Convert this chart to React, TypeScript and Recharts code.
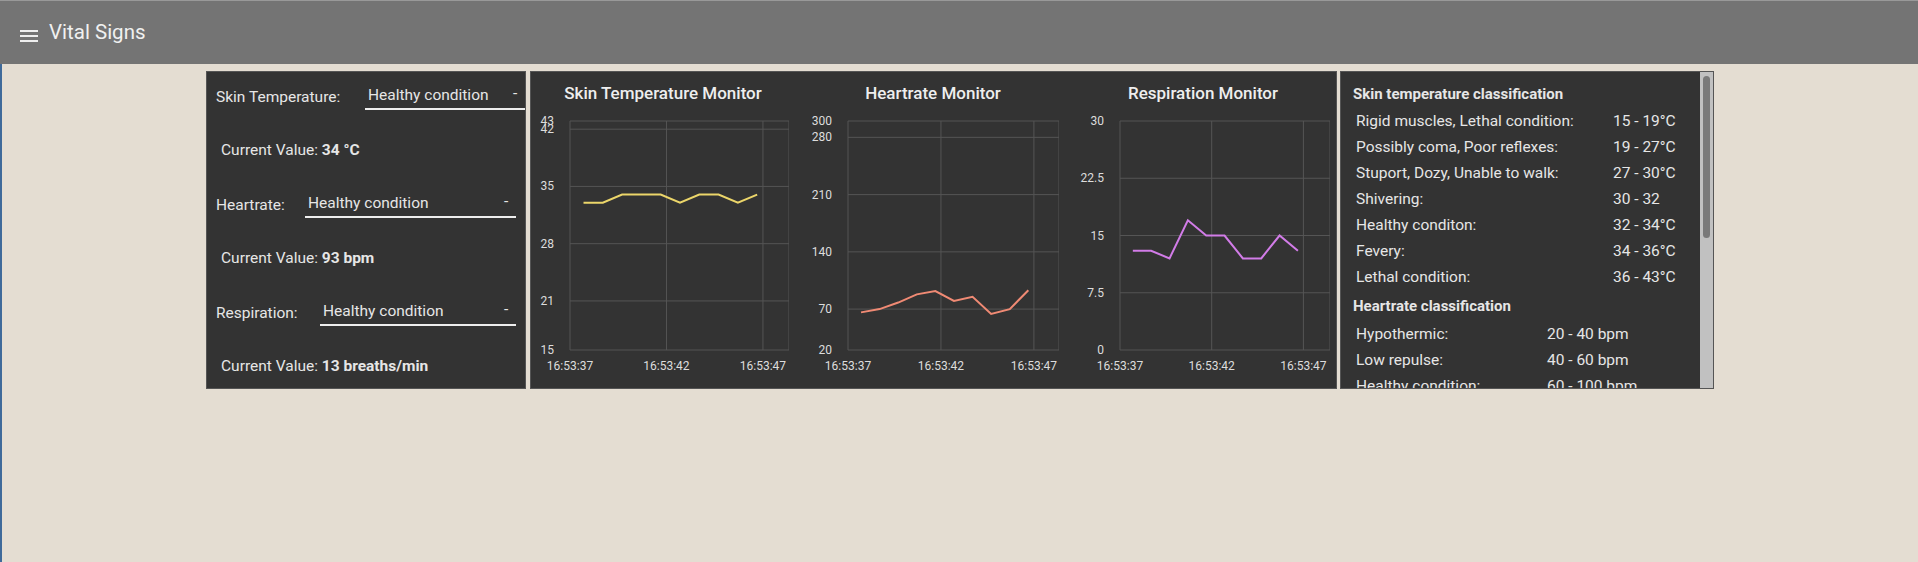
import React from 'react';
import { LineChart, Line, XAxis, YAxis, CartesianGrid } from 'recharts';

const TIMES = [37.7, 38.7, 39.7, 40.7, 41.7, 42.7, 43.7, 44.7, 45.7, 46.7];
const X_TICKS = [37, 42, 47];
const TEMP = [33, 33, 34, 34, 34, 33, 34, 34, 33, 34];
const HEART = [66, 70, 78, 88, 92, 80, 85, 64, 70, 93];
const RESP = [13, 13, 12, 17, 15, 15, 12, 12, 15, 13];
const TEMP_TICKS = [15, 21, 28, 35, 42, 43];
const HEART_TICKS = [20, 70, 140, 210, 280, 300];
const RESP_TICKS = [0, 7.5, 15, 22.5, 30];

const TEMP_CLASSES = [
  ['Rigid muscles, Lethal condition:', '15 - 19°C'],
  ['Possibly coma, Poor reflexes:', '19 - 27°C'],
  ['Stuport, Dozy, Unable to walk:', '27 - 30°C'],
  ['Shivering:', '30 - 32'],
  ['Healthy conditon:', '32 - 34°C'],
  ['Fevery:', '34 - 36°C'],
  ['Lethal condition:', '36 - 43°C'],
];
const HEART_CLASSES = [
  ['Hypothermic:', '20 - 40 bpm'],
  ['Low repulse:', '40 - 60 bpm'],
  ['Healthy condition:', '60 - 100 bpm'],
];

const FONT = 'Roboto, sans-serif';

const XTick = (p: any) => (
  <text x={p.x} y={p.y + 12} textAnchor="middle" fill="#ddd" fontSize={12} fontFamily={FONT}>
    {`16:53:${p.payload.value}`}
  </text>
);
const YTick = (p: any) => (
  <text x={p.x - 8} y={p.y + 4} textAnchor="end" fill="#ddd" fontSize={12} fontFamily={FONT}>
    {p.payload.value}
  </text>
);

type ChartProps = {
  title: string; values: number[]; ticks: number[]; color: string;
  plotLeft: number; plotWidth: number; titleX: number; xMax: number;
};

function Monitor({ title, values, ticks, color, plotLeft, plotWidth, titleX, xMax }: ChartProps) {
  const data = TIMES.map((t, i) => ({ t, v: values[i] }));
  const yw = 40;
  return (
    <>
      <div style={{ position: 'absolute', left: titleX - 150, width: 300, top: 83, textAlign: 'center', color: '#eee', fontFamily: FONT, fontWeight: 500, fontSize: 17 }}>
        {title}
      </div>
      <div style={{ position: 'absolute', left: plotLeft - yw, top: 116 }}>
        <LineChart width={yw + plotWidth} height={264} data={data} margin={{ top: 5, right: 0, left: 0, bottom: 0 }}>
          <CartesianGrid stroke="#555" strokeWidth={1} />
          <XAxis dataKey="t" type="number" domain={[37, xMax]} ticks={X_TICKS} tick={<XTick />} tickLine={false} axisLine={false} height={30} />
          <YAxis type="number" domain={[ticks[0], ticks[ticks.length - 1]]} ticks={ticks} tick={<YTick />} tickLine={false} axisLine={false} width={yw} interval={0} />
          <Line dataKey="v" stroke={color} strokeWidth={2} dot={false} isAnimationActive={false} />
        </LineChart>
      </div>
    </>
  );
}

const panel: React.CSSProperties = { position: 'absolute', top: 71, height: 318, background: '#333', border: '1px solid #555', boxSizing: 'border-box' };
const txt: React.CSSProperties = { position: 'absolute', color: '#e6e6e6', fontFamily: FONT, fontSize: 15.5, whiteSpace: 'nowrap' };

function Select({ left, right, top }: { left: number; right: number; top: number }) {
  return (
    <>
      <div style={{ ...txt, left: left + 3, top: top - 12 }}>Healthy condition</div>
      <div style={{ ...txt, left: right - 12, top: top - 14 }}>-</div>
      <div style={{ position: 'absolute', left, width: right - left, top: top + 10, height: 2, background: '#eee' }} />
    </>
  );
}

export default function App() {
  return (
    <div style={{ position: 'fixed', inset: 0, width: 1918, height: 562, background: '#e4ddd2', overflow: 'hidden' }}>
      <div style={{ position: 'absolute', left: 0, top: 0, width: 2, height: 562, background: '#3f6a9a' }} />
      <div style={{ position: 'absolute', left: 0, top: 0, width: 1918, height: 64, background: '#747474', borderTop: '1px solid #999', boxSizing: 'border-box' }}>
        {[29, 34, 39].map((y) => (
          <div key={y} style={{ position: 'absolute', left: 20, top: y, width: 18, height: 2, background: '#eee' }} />
        ))}
        <div style={{ ...txt, left: 49, top: 19, fontSize: 20.5, color: '#f0f0f0' }}>Vital Signs</div>
      </div>

      <div style={{ ...panel, left: 206, width: 320 }} />
      <div style={{ ...txt, left: 216, top: 88 }}>Skin Temperature:</div>
      <Select left={365} right={525} top={98} />
      <div style={{ ...txt, left: 221, top: 141 }}>Current Value: <b>34 °C</b></div>
      <div style={{ ...txt, left: 216, top: 196 }}>Heartrate:</div>
      <Select left={305} right={516} top={206} />
      <div style={{ ...txt, left: 221, top: 249 }}>Current Value: <b>93 bpm</b></div>
      <div style={{ ...txt, left: 216, top: 304 }}>Respiration:</div>
      <Select left={320} right={516} top={314} />
      <div style={{ ...txt, left: 221, top: 357 }}>Current Value: <b>13 breaths/min</b></div>

      <div style={{ ...panel, left: 530, width: 807 }} />
      <Monitor title="Skin Temperature Monitor" values={TEMP} ticks={TEMP_TICKS} color="#ecd66a" plotLeft={570} plotWidth={219} titleX={663} xMax={48.35} />
      <Monitor title="Heartrate Monitor" values={HEART} ticks={HEART_TICKS} color="#f08a74" plotLeft={848} plotWidth={211} titleX={933} xMax={48.35} />
      <Monitor title="Respiration Monitor" values={RESP} ticks={RESP_TICKS} color="#d27ce8" plotLeft={1120} plotWidth={210} titleX={1203} xMax={48.45} />

      <div style={{ ...panel, left: 1340, width: 374, overflow: 'hidden' }}>
        <div style={{ ...txt, left: 12, top: 13, fontWeight: 700, fontSize: 15 }}>Skin temperature classification</div>
        {TEMP_CLASSES.map(([a, b], i) => (
          <React.Fragment key={a}>
            <div style={{ ...txt, left: 15, top: 40 + i * 26 }}>{a}</div>
            <div style={{ ...txt, left: 272, top: 40 + i * 26 }}>{b}</div>
          </React.Fragment>
        ))}
        <div style={{ ...txt, left: 12, top: 225, fontWeight: 700, fontSize: 15 }}>Heartrate classification</div>
        {HEART_CLASSES.map(([a, b], i) => (
          <React.Fragment key={a}>
            <div style={{ ...txt, left: 15, top: 253 + i * 26 }}>{a}</div>
            <div style={{ ...txt, left: 206, top: 253 + i * 26 }}>{b}</div>
          </React.Fragment>
        ))}
        <div style={{ position: 'absolute', right: 0, top: 0, width: 13, height: 318, background: '#c1c1c1' }} />
        <div style={{ position: 'absolute', right: 3, top: 4, width: 7, height: 162, borderRadius: 4, background: '#7a7a7a' }} />
      </div>
    </div>
  );
}
